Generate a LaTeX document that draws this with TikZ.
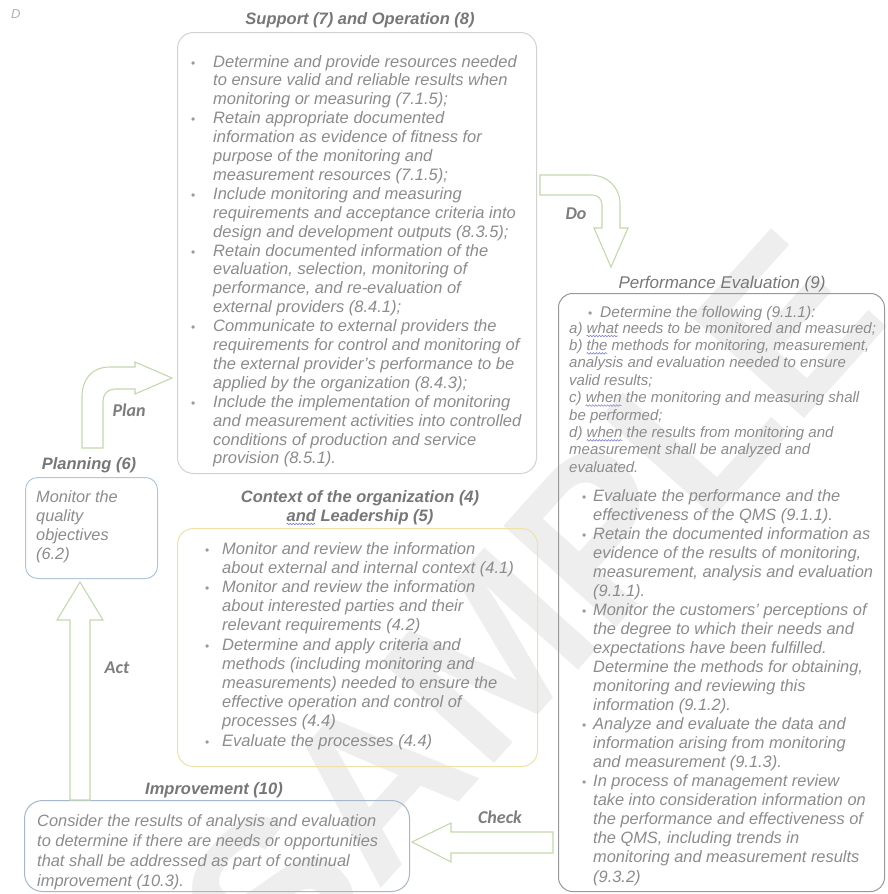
\documentclass[tikz,border=0pt]{standalone}
\usepackage{fontspec}
\setmainfont{Liberation Sans}
\newfontfamily\labfont{Carlito}
\usetikzlibrary{decorations.pathmorphing}
\definecolor{txtgray}{HTML}{8C8C8C}
\definecolor{ttlgray}{HTML}{777777}
\definecolor{labgray}{HTML}{7D7D7D}
\definecolor{bulgray}{HTML}{9A9A9A}
\definecolor{supedge}{HTML}{D2D2D2}
\definecolor{planedge}{HTML}{B3C7DB}
\definecolor{ctxedge}{HTML}{EEE2A6}
\definecolor{impedge}{HTML}{A6B7C8}
\definecolor{perfedge}{HTML}{999999}
\definecolor{arrgreen}{HTML}{C4D8B0}
\definecolor{sqblue}{HTML}{8585D5}
\definecolor{wmgray}{HTML}{EEEEEE}
\newlength\bw
\newcommand\bl{\makebox[\bw][l]{\textcolor{bulgray}{\upshape\fontsize{12}{12}\selectfont •}}}
\newcommand\il{\hspace*{\bw}}
\newcommand\nl{\hfil\break}
\newcommand\tb[4]{\vtop{\hsize=560pt\parindent=0pt\leftskip=0pt\rightskip=0pt\lineskiplimit=-50pt\lineskip=0pt\fontsize{#1}{#2}\selectfont\itshape\setlength\bw{#3}\noindent#4}}
\tikzset{
  boxnode/.style={draw=#1, line width=1pt, rounded corners=13pt, inner sep=0pt, anchor=north west},
  tblk/.style={anchor=base west, inner sep=0pt, text=txtgray},
  ttl/.style={anchor=base, inner sep=0pt, text=ttlgray, font=\fontsize{16.5}{18}\selectfont\bfseries\itshape},
  lab/.style={anchor=base, inner sep=0pt, text=labgray, font=\labfont\fontsize{18}{20}\selectfont\bfseries\itshape},
  barrow/.style={draw=arrgreen, line width=1.1pt, fill=white, line join=miter},
  sq/.style={draw=sqblue, line width=0.6pt, decorate, decoration={snake, segment length=3pt, amplitude=0.8pt}}
}
\begin{document}
\begin{tikzpicture}[x=1pt,y=-1pt]
\fill[white] (0,0) rectangle (887,894);
\useasboundingbox (0,0) rectangle (887,894);
% watermark
\node[rotate=48, text=wmgray, font=\fontsize{220}{220}\selectfont\bfseries, inner sep=0pt] (wm) at (530,610) {SAMPLE};
\node[anchor=base west, inner sep=0pt, text=black!30, font=\fontsize{13}{14}\selectfont\itshape] (dmark) at (11,18) {D};

% boxes
\node[boxnode=supedge, minimum width=359pt, minimum height=441pt, rounded corners=16pt] (supbox) at (177,32) {};
\node[boxnode=planedge, minimum width=132pt, minimum height=101pt, rounded corners=12pt] (planbox) at (25,477) {};
\node[boxnode=ctxedge, minimum width=360pt, minimum height=238pt, rounded corners=16pt] (ctxbox) at (177,528) {};
\node[boxnode=impedge, minimum width=385pt, minimum height=91pt, rounded corners=18pt] (impbox) at (24,800) {};
\node[boxnode=perfedge, minimum width=326pt, minimum height=598pt, rounded corners=14pt] (perfbox) at (558,293) {};

% titles
\node[ttl] (supttl) at (360,24) {Support (7) and Operation (8)};
\node[ttl] (planttl) at (89,469) {Planning (6)};
\node[ttl] (ctxttl1) at (360,502) {Context of the organization (4)};
\node[ttl] (ctxttl2) at (360,521) {and Leadership (5)};
\node[ttl] (impttl) at (214,794) {Improvement (10)};
\node[ttl, font=\fontsize{17}{18}\selectfont\itshape] (perfttl) at (722,288) {Performance Evaluation (9)};

% texts
\node[tblk] (suptxt) at (191,67) {\tb{16.5}{18.9}{22pt}{%
\bl Determine and provide resources needed\nl
\il to ensure valid and reliable results when\nl
\il monitoring or measuring (7.1.5);\nl
\bl Retain appropriate documented\nl
\il information as evidence of fitness for\nl
\il purpose of the monitoring and\nl
\il measurement resources (7.1.5);\nl
\bl Include monitoring and measuring\nl
\il requirements and acceptance criteria into\nl
\il design and development outputs (8.3.5);\nl
\bl Retain documented information of the\nl
\il evaluation, selection, monitoring of\nl
\il performance, and re-evaluation of\nl
\il external providers (8.4.1);\nl
\bl Communicate to external providers the\nl
\il requirements for control and monitoring of\nl
\il the external provider's performance to be\nl
\il applied by the organization (8.4.3);\nl
\bl Include the implementation of monitoring\nl
\il and measurement activities into controlled\nl
\il conditions of production and service\nl
\il provision (8.5.1).}};

\node[tblk] (plantxt) at (36,502) {\tb{16.3}{19.3}{0pt}{%
Monitor the\nl
quality\nl
objectives\nl
(6.2)}};

\node[tblk] (ctxtxt) at (205,554) {\tb{16.5}{19.2}{17pt}{%
\bl Monitor and review the information\nl
\il about external and internal context (4.1)\nl
\bl Monitor and review the information\nl
\il about interested parties and their\nl
\il relevant requirements (4.2)\nl
\bl Determine and apply criteria and\nl
\il methods (including monitoring and\nl
\il measurements) needed to ensure the\nl
\il effective operation and control of\nl
\il processes (4.4)\nl
\bl Evaluate the processes (4.4)}};

\node[tblk] (imptxt) at (37,826) {\tb{16.4}{20}{0pt}{%
Consider the results of analysis and evaluation\nl
to determine if there are needs or opportunities\nl
that shall be addressed as part of continual\nl
improvement (10.3).}};

\node[tblk] (perfhd) at (588,317) {\tb{15.5}{17}{12pt}{%
\bl Determine the following (9.1.1):}};

\node[tblk] (perflist) at (569,333) {\tb{15}{17.4}{0pt}{%
a) what needs to be monitored and measured;\nl
b) the methods for monitoring, measurement,\nl
analysis and evaluation needed to ensure\nl
valid results;\nl
c) when the monitoring and measuring shall\nl
be performed;\nl
d) when the results from monitoring and\nl
measurement shall be analyzed and\nl
evaluated.}};

\node[tblk] (perftxt) at (582,501) {\tb{16.4}{19.05}{11pt}{%
\bl Evaluate the performance and the\nl
\il effectiveness of the QMS (9.1.1).\nl
\bl Retain the documented information as\nl
\il evidence of the results of monitoring,\nl
\il measurement, analysis and evaluation\nl
\il (9.1.1).\nl
\bl Monitor the customers’ perceptions of\nl
\il the degree to which their needs and\nl
\il expectations have been fulfilled.\nl
\il Determine the methods for obtaining,\nl
\il monitoring and reviewing this\nl
\il information (9.1.2).\nl
\bl Analyze and evaluate the data and\nl
\il information arising from monitoring\nl
\il and measurement (9.1.3).\nl
\bl In process of management review\nl
\il take into consideration information on\nl
\il the performance and effectiveness of\nl
\il the QMS, including trends in\nl
\il monitoring and measurement results\nl
\il (9.3.2)}};

% squiggles
\draw[sq] ([yshift=-3pt]ctxttl2.base west) -- ++(29,0);
\draw[sq] ([xshift=17.5pt,yshift=-3pt]perflist.base west) -- ++(31.7,0);
\draw[sq] ([xshift=17.5pt,yshift=-20.4pt]perflist.base west) -- ++(20.9,0);
\draw[sq] ([xshift=16.7pt,yshift=-72.6pt]perflist.base west) -- ++(35.9,0);
\draw[sq] ([xshift=17.5pt,yshift=-107.4pt]perflist.base west) -- ++(35.9,0);

% block arrows
\draw[barrow] (82,448) -- (82,397) .. controls (82,379) and (92,367) .. (110,367) -- (135,367) -- (135,362) -- (172,378) -- (135,394) -- (135,389) -- (115,389) .. controls (108,389) and (103,394) .. (103,401) -- (103,448) -- cycle;
\node[lab] (planlab) at (129,416.5) {Plan};

\draw[barrow] (540,175) -- (590,175) .. controls (607,175) and (620,187) .. (620,204) -- (620,228) -- (628,228) -- (611,267) -- (594,228) -- (602,228) -- (602,205) .. controls (602,199) and (598,195) .. (592,195) -- (540,195) -- cycle;
\node[lab] (dolab) at (576,219.5) {Do};

\draw[barrow] (553,832) -- (451,832) -- (451,823) -- (412,842) -- (451,862) -- (451,853) -- (553,853) -- cycle;
\node[lab] (checklab) at (500,823.5) {Check};

\draw[barrow] (70,800) -- (70,620) -- (57,620) -- (80,582) -- (103,620) -- (90,620) -- (90,800) -- cycle;
\node[lab] (actlab) at (117,673) {Act};
\end{tikzpicture}
\end{document}
